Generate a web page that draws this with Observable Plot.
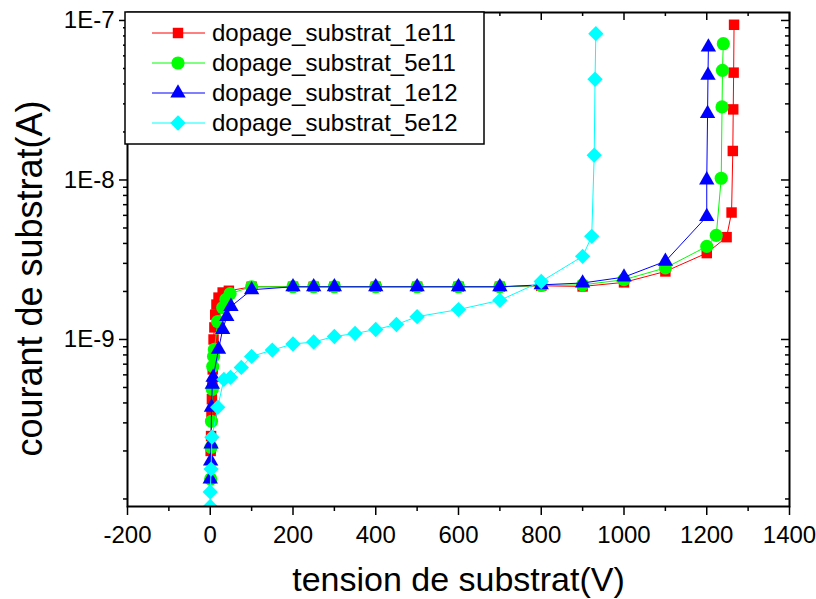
<!DOCTYPE html>
<html><head><meta charset="utf-8">
<script src="https://cdn.jsdelivr.net/npm/d3@7"></script>
<script src="https://cdn.jsdelivr.net/npm/@observablehq/plot@0.6"></script>
<style>body{margin:0;background:#fff}#chart{position:relative;width:816px;height:599px}</style>
</head><body><div id="chart"></div>
<script>
const seriesNames = ["dopage_substrat_1e11","dopage_substrat_5e11","dopage_substrat_1e12","dopage_substrat_5e12"];
const seriesColors = ["#ff0000","#00ff00","#0000ff","#00ffff"];
const seriesSymbols = ["square","circle","triangle","diamond2"];

const x1e11 = [1,2,3,4,5,6,8,10,12,15,20,30,45,100,200,250,300,400,500,600,700,800,900,1000,1100,1200,1248,1260,1263,1264,1265,1266];
const y1e11 = [2.0e-10,2.48e-10,3.3e-10,4.22e-10,5.24e-10,6.49e-10,1.0e-9,1.19e-9,1.43e-9,1.655e-9,1.83e-9,1.97e-9,2.02e-9,2.14e-9,2.14e-9,2.14e-9,2.14e-9,2.14e-9,2.14e-9,2.14e-9,2.14e-9,2.17e-9,2.15e-9,2.28e-9,2.67e-9,3.48e-9,4.38e-9,6.25e-9,1.52e-8,2.77e-8,4.71e-8,9.4e-8];

const x5e11 = [1,2,3,5,6,8,10,18,30,38,48,100,200,250,300,400,500,600,700,800,900,1000,1100,1200,1223,1235,1237,1238,1240];
const y5e11 = [1.334e-10,2.11e-10,3.07e-10,4.87e-10,6.78e-10,7.83e-10,8.66e-10,1.296e-9,1.585e-9,1.78e-9,1.94e-9,2.14e-9,2.14e-9,2.14e-9,2.14e-9,2.14e-9,2.14e-9,2.14e-9,2.14e-9,2.18e-9,2.2e-9,2.37e-9,2.81e-9,3.83e-9,4.49e-9,1.025e-8,2.87e-8,4.87e-8,7.15e-8];

const x1e12 = [0,1,2,3,5,7,20,30,40,50,100,200,250,300,400,500,600,700,800,900,1000,1100,1200,1200,1202,1203,1204];
const y1e12 = [1.334e-10,1.727e-10,2.21e-10,3.76e-10,5.24e-10,5.79e-10,8.66e-10,1.155e-9,1.39e-9,1.61e-9,2.05e-9,2.14e-9,2.14e-9,2.14e-9,2.14e-9,2.14e-9,2.14e-9,2.14e-9,2.2e-9,2.26e-9,2.46e-9,3.09e-9,5.9e-9,1.0e-8,2.61e-8,4.53e-8,6.81e-8];

const x5e12 = [0,0,2,4,18,33,49,75,100,150,200,250,300,350,400,450,500,600,700,800,900,922,928,930,932];
const y5e12 = [8.97e-11,1.107e-10,1.54e-10,2.44e-10,3.76e-10,5.62e-10,5.79e-10,6.68e-10,7.83e-10,8.58e-10,9.37e-10,9.64e-10,1.044e-9,1.09e-9,1.155e-9,1.241e-9,1.39e-9,1.54e-9,1.76e-9,2.31e-9,3.32e-9,4.43e-9,1.43e-8,4.28e-8,8.26e-8];

const xTicks = [-200,0,200,400,600,800,1000,1200,1400];
const xTickLabels = ["-200","0","200","400","600","800","1000","1200","1400"];
const xMinorTicks = [-100,100,300,500,700,900,1100,1300];
const yTicks = [1e-9,1e-8,1e-7];
const yTickLabels = ["1E-9","1E-8","1E-7"];
const xLabel = "tension de substrat(V)";
const yLabel = "courant de substrat(A)";

const xs = [x1e11,x5e11,x1e12,x5e12];
const ys = [y1e11,y5e11,y1e12,y5e12];

const W = 816, H = 599, mL = 127, mR = 27, mT = 12, mB = 93;
const yDomain = [8.97e-11, 1.122e-7];
const yMinor = [];
for (const e of [-10,-9,-8]) for (let k = 2; k <= 9; k++) { const v = k*Math.pow(10,e); if (v > yDomain[0] && v < yDomain[1]) yMinor.push(v); }
yMinor.push(1e-10);

const font = "'Liberation Sans', Arial, sans-serif";
const marks = [];
const sizes = [5.9, 6.6, 5.7, 6.9];
seriesNames.forEach((name, s) => {
  const rows = xs[s].map((x, i) => ({x, y: ys[s][i]}));
  marks.push(Plot.line(rows, {x: "x", y: "y", stroke: seriesColors[s], strokeWidth: 1}));
  marks.push(Plot.dot(rows, {x: "x", y: "y", symbol: () => seriesSymbols[s], fill: seriesColors[s], stroke: "none", r: sizes[s], clip: true}));
});

const fw = W - mL - mR, fh = H - mT - mB;
const chart = Plot.plot({
  width: W, height: H, marginLeft: mL, marginRight: mR, marginTop: mT, marginBottom: mB,
  style: {fontFamily: font, fontSize: "24px", background: "#fff", color: "#000"},
  x: {domain: [-200, 1400]},
  y: {type: "log", domain: yDomain},
  marks: [
    ...marks,
    Plot.axisX({ticks: xTicks, tickFormat: d => xTickLabels[xTicks.indexOf(d)], tickSize: 9, tickPadding: 10, strokeWidth: 1.5, fontSize: 24, label: null}),
    Plot.axisX({ticks: xMinorTicks, tickFormat: () => "", tickSize: 5, strokeWidth: 1.5, label: null}),
    Plot.axisY({ticks: yTicks, tickFormat: d => yTickLabels[yTicks.indexOf(d)], tickSize: 8, tickPadding: 5, strokeWidth: 1.5, fontSize: 24, label: null}),
    Plot.axisY({ticks: yMinor, tickFormat: () => "", tickSize: 4, strokeWidth: 1.5, label: null}),
    Plot.tickX(xTicks, {x: d => d, insetBottom: fh - 8, strokeWidth: 1.5}),
    Plot.tickX(xMinorTicks, {x: d => d, insetBottom: fh - 4, strokeWidth: 1.5}),
    Plot.tickY(yTicks, {y: d => d, insetLeft: fw - 8, strokeWidth: 1.5}),
    Plot.tickY(yMinor, {y: d => d, insetLeft: fw - 4, strokeWidth: 1.5}),
    Plot.frame({stroke: "#000", strokeWidth: 2}),
    Plot.text([xLabel], {frameAnchor: "bottom", dy: 74, fontSize: 34, textAnchor: "middle", lineAnchor: "middle"}),
    Plot.text([yLabel], {frameAnchor: "left", rotate: -90, dx: -97, dy: 19, fontSize: 36, textAnchor: "middle", lineAnchor: "middle"})
  ]
});
document.getElementById("chart").appendChild(chart);

// legend
const svg = d3.select(chart);
const lg = svg.append("g");
lg.append("rect").attr("x", 125).attr("y", 12).attr("width", 359).attr("height", 132)
  .attr("fill", "#fff").attr("stroke", "#000").attr("stroke-width", 1.5);
const symMap = {square: d3.symbolSquare, circle: d3.symbolCircle, triangle: d3.symbolTriangle, diamond2: d3.symbolDiamond2};
seriesNames.forEach((name, s) => {
  const yy = 33 + s * 30;
  lg.append("line").attr("x1", 152).attr("x2", 205).attr("y1", yy).attr("y2", yy)
    .attr("stroke", seriesColors[s]).attr("stroke-width", 1);
  lg.append("path").attr("transform", `translate(178,${yy})`)
    .attr("d", d3.symbol(symMap[seriesSymbols[s]], Math.PI * sizes[s] * sizes[s])())
    .attr("fill", seriesColors[s]);
  lg.append("text").attr("x", 212).attr("y", yy).attr("dy", "0.35em")
    .attr("text-anchor", "start")
    .attr("font-family", font).attr("font-size", 24).attr("fill", "#000").text(name);
});
</script></body></html>
